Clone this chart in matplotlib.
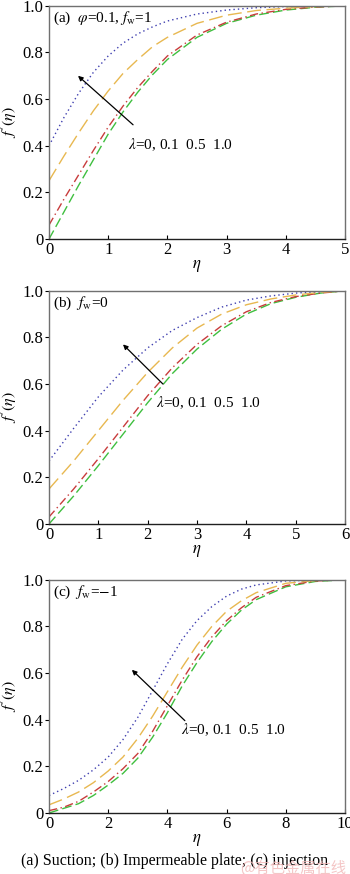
import matplotlib
matplotlib.use("Agg")
import matplotlib.pyplot as plt

plt.rcParams['font.family'] = ['Liberation Serif', 'DejaVu Serif']
plt.rcParams['mathtext.fontset'] = 'stix'

# (a) suction, f_w = 1
eta_a = [0, 0.25, 0.5, 0.75, 1.0, 1.25, 1.5, 1.75, 2.0, 2.5, 3.0, 3.5, 4.0, 4.5, 5.0]
a_lam0 = [0.0, 0.115, 0.23, 0.34, 0.45, 0.545, 0.63, 0.705, 0.77, 0.865, 0.925, 0.96, 0.982, 0.994, 1.0]
a_lam01 = [0.06, 0.17, 0.275, 0.38, 0.48, 0.57, 0.65, 0.72, 0.785, 0.875, 0.93, 0.965, 0.985, 0.995, 1.0]
a_lam05 = [0.25, 0.355, 0.455, 0.55, 0.635, 0.71, 0.77, 0.825, 0.865, 0.925, 0.96, 0.98, 0.99, 0.997, 1.0]
a_lam10 = [0.40, 0.52, 0.625, 0.715, 0.785, 0.84, 0.88, 0.91, 0.935, 0.965, 0.982, 0.992, 0.997, 0.999, 1.0]

# (b) impermeable plate, f_w = 0
eta_b = [0, 0.5, 1.0, 1.5, 2.0, 2.5, 3.0, 3.5, 4.0, 4.5, 5.0, 5.5, 6.0]
b_lam0 = [0.0, 0.12, 0.25, 0.385, 0.52, 0.645, 0.75, 0.835, 0.90, 0.945, 0.972, 0.99, 1.0]
b_lam01 = [0.03, 0.15, 0.28, 0.415, 0.55, 0.67, 0.77, 0.85, 0.91, 0.95, 0.975, 0.99, 1.0]
b_lam05 = [0.15, 0.27, 0.40, 0.53, 0.65, 0.755, 0.84, 0.90, 0.94, 0.965, 0.982, 0.993, 1.0]
b_lam10 = [0.27, 0.41, 0.545, 0.66, 0.755, 0.83, 0.885, 0.93, 0.96, 0.978, 0.99, 0.997, 1.0]

# (c) injection, f_w = -1
eta_c = [0, 0.5, 1, 1.5, 2, 2.5, 3, 3.5, 4, 4.5, 5, 5.5, 6, 6.5, 7, 8, 9, 10]
c_lam0 = [0.0, 0.02, 0.04, 0.075, 0.12, 0.17, 0.235, 0.325, 0.43, 0.545, 0.645, 0.735, 0.81, 0.87, 0.915, 0.97, 0.993, 1.0]
c_lam01 = [0.01, 0.025, 0.05, 0.09, 0.135, 0.19, 0.255, 0.35, 0.46, 0.57, 0.67, 0.755, 0.825, 0.88, 0.925, 0.975, 0.995, 1.0]
c_lam05 = [0.035, 0.06, 0.09, 0.13, 0.18, 0.24, 0.32, 0.415, 0.52, 0.625, 0.72, 0.80, 0.865, 0.91, 0.945, 0.985, 0.997, 1.0]
c_lam10 = [0.075, 0.105, 0.14, 0.185, 0.24, 0.315, 0.41, 0.525, 0.64, 0.745, 0.825, 0.885, 0.93, 0.96, 0.978, 0.995, 0.999, 1.0]

yticks = [0, 0.2, 0.4, 0.6, 0.8, 1.0]
ytick_labels = ['0', '0.2', '0.4', '0.6', '0.8', '1.0']

styles = [
    ('#3fbf3f', (0, (7, 3))),            # lambda = 0
    ('#c83c3c', (0, (6, 2.5, 1, 2.5))),  # lambda = 0.1
    ('#e8b850', (0, (10, 4))),           # lambda = 0.5
    ('#4040b0', (0, (1, 2.2))),          # lambda = 1.0
]

panels = [
    dict(eta=eta_a, ys=[a_lam0, a_lam01, a_lam05, a_lam10], xmax=5, xticks=range(0, 6),
         title=r'(a)  $\varphi$=0.1, $f_{\rm w}$=1',
         arrow=((1.42, 0.49), (0.49, 0.70)), label=(1.34, 0.405)),
    dict(eta=eta_b, ys=[b_lam0, b_lam01, b_lam05, b_lam10], xmax=6, xticks=range(0, 7),
         title=r'(b)  $f_{\rm w}$=0',
         arrow=((2.31, 0.60), (1.50, 0.77)), label=(2.17, 0.52)),
    dict(eta=eta_c, ys=[c_lam0, c_lam01, c_lam05, c_lam10], xmax=10, xticks=range(0, 11, 2),
         title=r'(c)  $f_{\rm w}$=$-$1',
         arrow=((4.59, 0.396), (2.80, 0.614)), label=(4.47, 0.357)),
]

fig = plt.figure(figsize=(3.5, 8.74), dpi=100)
bottoms = [0.7265, 0.4005, 0.0698]

for p, b in zip(panels, bottoms):
    ax = fig.add_axes([0.14, b, 0.8457, 0.2668])
    for y, (c, ls) in zip(p['ys'], styles):
        ax.plot(p['eta'], y, color=c, linestyle=ls, linewidth=1.0)
    ax.set_xlim(0, p['xmax'])
    ax.set_ylim(0, 1.0)
    ax.set_xticks(list(p['xticks']))
    ax.set_yticks(yticks)
    ax.set_yticklabels(ytick_labels)
    ax.tick_params(axis='x', direction='in', length=3, labelsize=12, pad=2)
    ax.tick_params(axis='y', direction='out', length=3, labelsize=12, pad=1)
    for s in ax.spines.values():
        s.set_color('#707070')
        s.set_linewidth(1.0)
    ax.spines['bottom'].set_color('#202020')
    ax.set_xlabel(r'$\eta$', fontsize=12, labelpad=0)
    ax.set_ylabel(r'$f^{\prime}(\eta)$', fontsize=11.5)
    ax.yaxis.set_label_coords(-0.10, 0.5)
    ax.text(0.015, 0.985, p['title'], transform=ax.transAxes, fontsize=11,
            ha='left', va='top')
    (x0, y0), (x1, y1) = p['arrow']
    ax.annotate('', xy=(x1, y1), xytext=(x0, y0),
                arrowprops=dict(arrowstyle='-|>', color='black', lw=0.9,
                                mutation_scale=7, shrinkA=0, shrinkB=0))
    ax.text(p['label'][0], p['label'][1], r'$\lambda$=0, 0.1  0.5  1.0',
            fontsize=11, ha='left', va='center')

fig.text(0.5, 0.015, '(a) Suction; (b) Impermeable plate; (c) injection',
         ha='center', va='center', fontsize=11.5)
fig.text(0.685, 0.007, '@有色金属在线', ha='left', va='center', fontsize=11,
         color='#f2b8b8', alpha=0.8,
         family=['Noto Sans CJK SC', 'DejaVu Sans'])

fig.savefig('out.png', dpi=100)
